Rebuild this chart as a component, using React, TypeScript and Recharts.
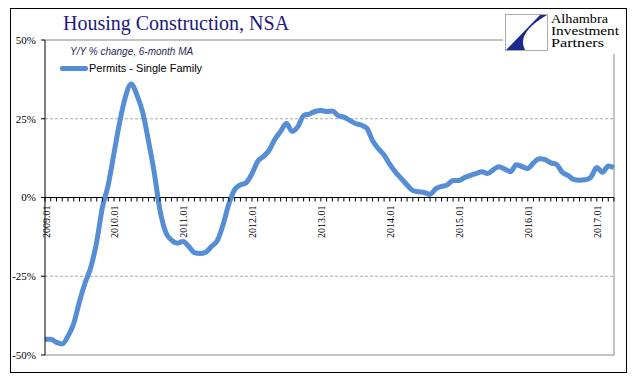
import {
  Legend,
  Line,
  LineChart,
  ReferenceLine,
  XAxis,
  YAxis,
} from "recharts";

// monthly categories 2009.01 .. 2017.04
const months = Array.from({ length: 100 }, (_, i) =>
  `${2009 + Math.floor(i / 12)}.${String((i % 12) + 1).padStart(2, "0")}`
);

// Y/Y % change, 6-month MA, permits - single family
const permitsSingleFamily = [
  -45, -45, -46, -46.5, -44, -40, -33, -27, -22, -14,
  -3, 4, 14, 24, 32, 36, 32.5, 27, 18, 8,
  -4, -11, -13.5, -14.5, -14, -15.5, -17.5, -17.8, -17.3, -15.5,
  -13.6, -8.5, -2, 2.5, 4, 4.7, 7.5, 11.5, 13, 15,
  18.5, 21, 23.5, 21, 22.5, 26, 26.5, 27.3, 27.6, 27.3,
  27.5, 26, 25.5, 24.5, 23.5, 23, 22, 18, 15.5, 13.5,
  10.5, 8, 6, 4, 2.2, 1.8, 1.6, 1, 2.8, 3.5,
  4, 5.4, 5.4, 6.3, 7, 7.6, 8.2, 7.6, 8.8, 9.8,
  9, 8.2, 10.4, 9.8, 9.2, 11, 12.3, 12, 11, 10.5,
  8, 7, 5.7, 5.5, 5.6, 6.5, 9.5, 8, 10, 9.5,
];

const yTicks = [-50, -25, 0, 25, 50];

const logoLines = ["Alhambra", "Investment", "Partners"];

const data = months.map((m, i) => ({ month: m, permits: permitsSingleFamily[i] }));

const TOP = 40;
const PLOT_H = 315;
const Y_MIN = -50;
const Y_MAX = 50;
const zeroY = TOP + ((Y_MAX - 0) / (Y_MAX - Y_MIN)) * PLOT_H;

const serif = '"Liberation Serif", "Times New Roman", serif';
const sans = '"Liberation Sans", Arial, sans-serif';
const lineColor = "#558ED5";

function MonthTick(props: any) {
  const { x, payload } = props;
  const label: string = payload.value;
  return (
    <g>
      <line x1={x} x2={x} y1={zeroY} y2={zeroY + 4} stroke="#000" strokeWidth={1} />
      {label.endsWith(".01") && (
        <text
          transform={`translate(${x + 4.5},${zeroY + 8}) rotate(-90)`}
          textAnchor="end"
          fontFamily={serif}
          fontSize={10}
          fill="#000"
        >
          {label}
        </text>
      )}
    </g>
  );
}

function LegendBox() {
  return (
    <div style={{ display: "flex", alignItems: "center", whiteSpace: "nowrap" }}>
      <span style={{ display: "inline-block", width: 28, height: 5, background: lineColor, borderRadius: 2 }} />
      <span style={{ fontFamily: sans, fontSize: 11, color: "#000", marginLeft: 1 }}>
        Permits - Single Family
      </span>
    </div>
  );
}

export default function App() {
  return (
    <div style={{ position: "absolute", left: 0, top: 0, width: 641, height: 381, background: "#fff" }}>
      <div
        style={{
          position: "absolute",
          left: 10,
          top: 8,
          width: 615,
          height: 363,
          border: "1px solid #000",
        }}
      />
      <LineChart
        width={641}
        height={381}
        data={data}
        margin={{ top: TOP, right: 27, bottom: 25, left: 0 }}
        style={{ position: "absolute", left: 0, top: 0 }}
      >
        <XAxis
          dataKey="month"
          scale="point"
          padding={{ left: 0, right: 0 }}
          interval={0}
          axisLine={false}
          tickLine={false}
          height={1}
          tick={<MonthTick />}
        />
        <YAxis
          type="number"
          domain={[Y_MIN, Y_MAX]}
          ticks={yTicks}
          width={45}
          tickFormatter={(v: number) => `${v}%`}
          axisLine={{ stroke: "#000" }}
          tickLine={{ stroke: "#000" }}
          tickSize={4}
          tickMargin={5}
          tick={{ fontFamily: serif, fontSize: 11, fill: "#000" }}
        />
        <ReferenceLine y={25} stroke="#aaa" strokeDasharray="3 2" />
        <ReferenceLine y={-25} stroke="#aaa" strokeDasharray="3 2" />
        <ReferenceLine y={50} stroke="#888" />
        <ReferenceLine y={-50} stroke="#888" />
        <ReferenceLine x={months[months.length - 1]} stroke="#888" />
        <ReferenceLine y={0} stroke="#000" />
        <Line
          dataKey="permits"
          type="monotone"
          stroke={lineColor}
          strokeWidth={5}
          dot={false}
          strokeLinejoin="round"
          isAnimationActive={false}
        />
        <Legend
          layout="horizontal"
          verticalAlign="middle"
          align="center"
          content={<LegendBox />}
          wrapperStyle={{ left: 60, top: 62, width: "auto", height: "auto" }}
        />
      </LineChart>

      <div
        style={{
          position: "absolute",
          left: 63,
          top: 10,
          fontFamily: serif,
          fontSize: 20,
          color: "#1a1a80",
          whiteSpace: "nowrap",
          lineHeight: "26px",
        }}
      >
        Housing Construction, NSA
      </div>
      <div
        style={{
          position: "absolute",
          left: 70,
          top: 45,
          fontFamily: sans,
          fontStyle: "italic",
          fontSize: 10,
          color: "#1f2a5a",
          whiteSpace: "nowrap",
          lineHeight: "14px",
        }}
      >
        Y/Y % change, 6-month MA
      </div>

      <svg width={641} height={381} style={{ position: "absolute", left: 0, top: 0, pointerEvents: "none" }}>
        <rect x={503} y={10} width={116} height={44} fill="#fff" />
        <rect x={505.5} y={14.5} width={42} height={36} fill="#fff" stroke="#aaa" strokeWidth={1} />
        <path d="M 540 15 L 547 15 Q 516 33 525 50 L 506 50 Z" fill="#1a2b8c" />
        <g fontFamily={serif} fontSize={12} fill="#000">
          <text x={551} y={23} textLength={57} lengthAdjust="spacingAndGlyphs">{logoLines[0]}</text>
          <text x={551} y={35} textLength={68} lengthAdjust="spacingAndGlyphs">{logoLines[1]}</text>
          <text x={551} y={47} textLength={53} lengthAdjust="spacingAndGlyphs">{logoLines[2]}</text>
        </g>
      </svg>
    </div>
  );
}
